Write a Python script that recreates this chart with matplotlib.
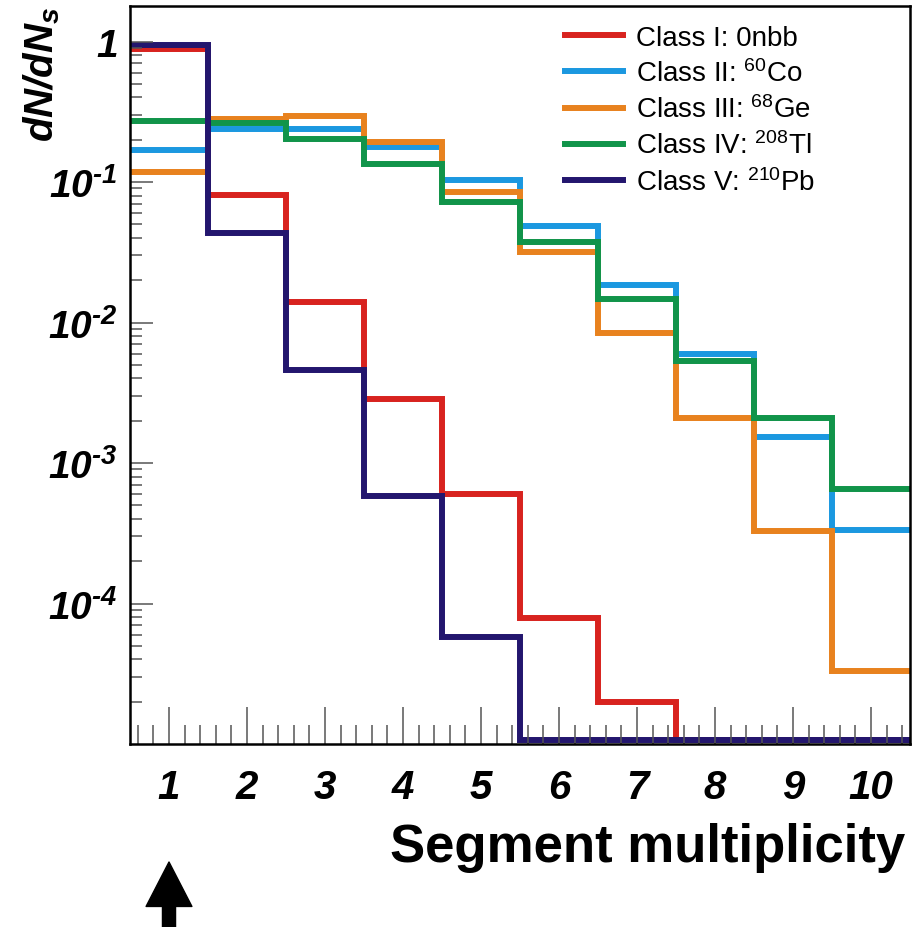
import numpy as np
import matplotlib
matplotlib.use("Agg")
import matplotlib.pyplot as plt
from matplotlib.ticker import FixedLocator, NullFormatter, LogLocator

plt.rcParams['font.family'] = ['Liberation Sans', 'DejaVu Sans']
plt.rcParams['mathtext.fontset'] = 'custom'
plt.rcParams['mathtext.rm'] = 'Liberation Sans'
plt.rcParams['mathtext.it'] = 'Liberation Sans:italic'
plt.rcParams['mathtext.bf'] = 'Liberation Sans:bold:italic'

# ---- data ----
multiplicity = [1, 2, 3, 4, 5, 6, 7, 8, 9, 10]
class_I_0nbb = [0.88, 0.081, 0.0139, 0.00287, 0.000597, 7.9e-5, 1.98e-5, 0, 0, 0]
class_II_co60 = [0.17, 0.239, 0.24, 0.177, 0.104, 0.0489, 0.0185, 0.00594, 0.00153, 0.000336]
class_III_ge68 = [0.117, 0.281, 0.294, 0.194, 0.085, 0.0318, 0.0084, 0.00208, 0.000327, 3.29e-5]
class_IV_tl208 = [0.272, 0.263, 0.203, 0.134, 0.072, 0.0372, 0.0147, 0.00532, 0.0021, 0.000656]
class_V_pb210 = [0.94, 0.0433, 0.00459, 0.000581, 5.78e-5, 0, 0, 0, 0, 0]

labels = [r'Class I: 0nbb', r'Class II: $^{60}$Co', r'Class III: $^{68}$Ge',
          r'Class IV: $^{208}$Tl', r'Class V: $^{210}$Pb']
series = [class_I_0nbb, class_II_co60, class_III_ge68, class_IV_tl208, class_V_pb210]
colors = ['#d8231f', '#1b98e0', '#e8821e', '#11944a', '#23166e']

YMIN, YMAX = 1e-5, 1.79

fig = plt.figure(figsize=(9.19, 9.28), dpi=100)
ax = fig.add_axes([130/919, 183/928, 780/919, 738/928])

edges = np.concatenate([[multiplicity[0] - 0.5], np.array(multiplicity) + 0.5])
for vals, col, lab in zip(series, colors, labels):
    v = np.maximum(np.array(vals, dtype=float), YMIN * 1.07)
    ax.stairs(v, edges, color=col, lw=4.3, label=lab, baseline=None)

ax.set_yscale('log')
ax.set_xlim(0.5, 10.5)
ax.set_ylim(YMIN, YMAX)

# y ticks
ymaj = [1, 1e-1, 1e-2, 1e-3, 1e-4]
ylab = ['$\\mathbf{1}$', '$\\mathbf{10^{‐1}}$', '$\\mathbf{10^{‐2}}$',
        '$\\mathbf{10^{‐3}}$', '$\\mathbf{10^{‐4}}$']
ax.yaxis.set_major_locator(FixedLocator(ymaj))
ax.set_yticklabels(ylab)
ax.yaxis.set_minor_locator(LogLocator(base=10, subs=np.arange(2, 10), numticks=20))
ax.yaxis.set_minor_formatter(NullFormatter())

# x ticks
ax.xaxis.set_major_locator(FixedLocator(multiplicity))
ax.set_xticklabels([str(m) for m in multiplicity])
ax.xaxis.set_minor_locator(FixedLocator(np.arange(0.6, 10.5, 0.2)))

ax.tick_params(axis='y', which='major', direction='in', length=16.5, width=1.1,
               color='#555555', left=True, right=False, pad=9, labelsize=28)
ax.tick_params(axis='y', which='minor', direction='in', length=8.6, width=1.1,
               color='#555555', left=True, right=False)
ax.tick_params(axis='x', which='major', direction='in', length=27, width=1.1,
               color='#555555', bottom=True, top=False, pad=17, labelsize=29)
ax.tick_params(axis='x', which='minor', direction='in', length=13.7, width=1.1,
               color='#555555', bottom=True, top=False)
for lbl in ax.get_xticklabels():
    lbl.set_fontstyle('italic')
    lbl.set_fontweight('bold')

for sp in ax.spines.values():
    sp.set_linewidth(1.8)
    sp.set_color('black')

# y label
fig.text(42/919, 1 - 74/928, r'$\mathbf{dN/dN_{s}}$', rotation=90,
         ha='center', va='center', fontsize=29)

# x label
fig.text(905/919, 1 - 862/928, 'Segment multiplicity', ha='right', va='baseline',
         fontsize=38, fontweight='bold')

# legend
ax.legend(loc='upper left', bbox_to_anchor=(565/919, 1 - 26/928),
          bbox_transform=fig.transFigure, frameon=False, fontsize=20,
          handlelength=2.09, handletextpad=0.47, labelspacing=0.3,
          borderpad=0, borderaxespad=0)

# arrow
ax.annotate('', xy=(1, 928 - 863), xytext=(1, 0),
            xycoords=('data', 'figure pixels'), textcoords=('data', 'figure pixels'),
            annotation_clip=False,
            arrowprops=dict(arrowstyle='simple,head_length=3.2,head_width=3.3,tail_width=0.94',
                            color='black', shrinkA=0, shrinkB=0, mutation_scale=10))

fig.savefig('out.png', dpi=100)
